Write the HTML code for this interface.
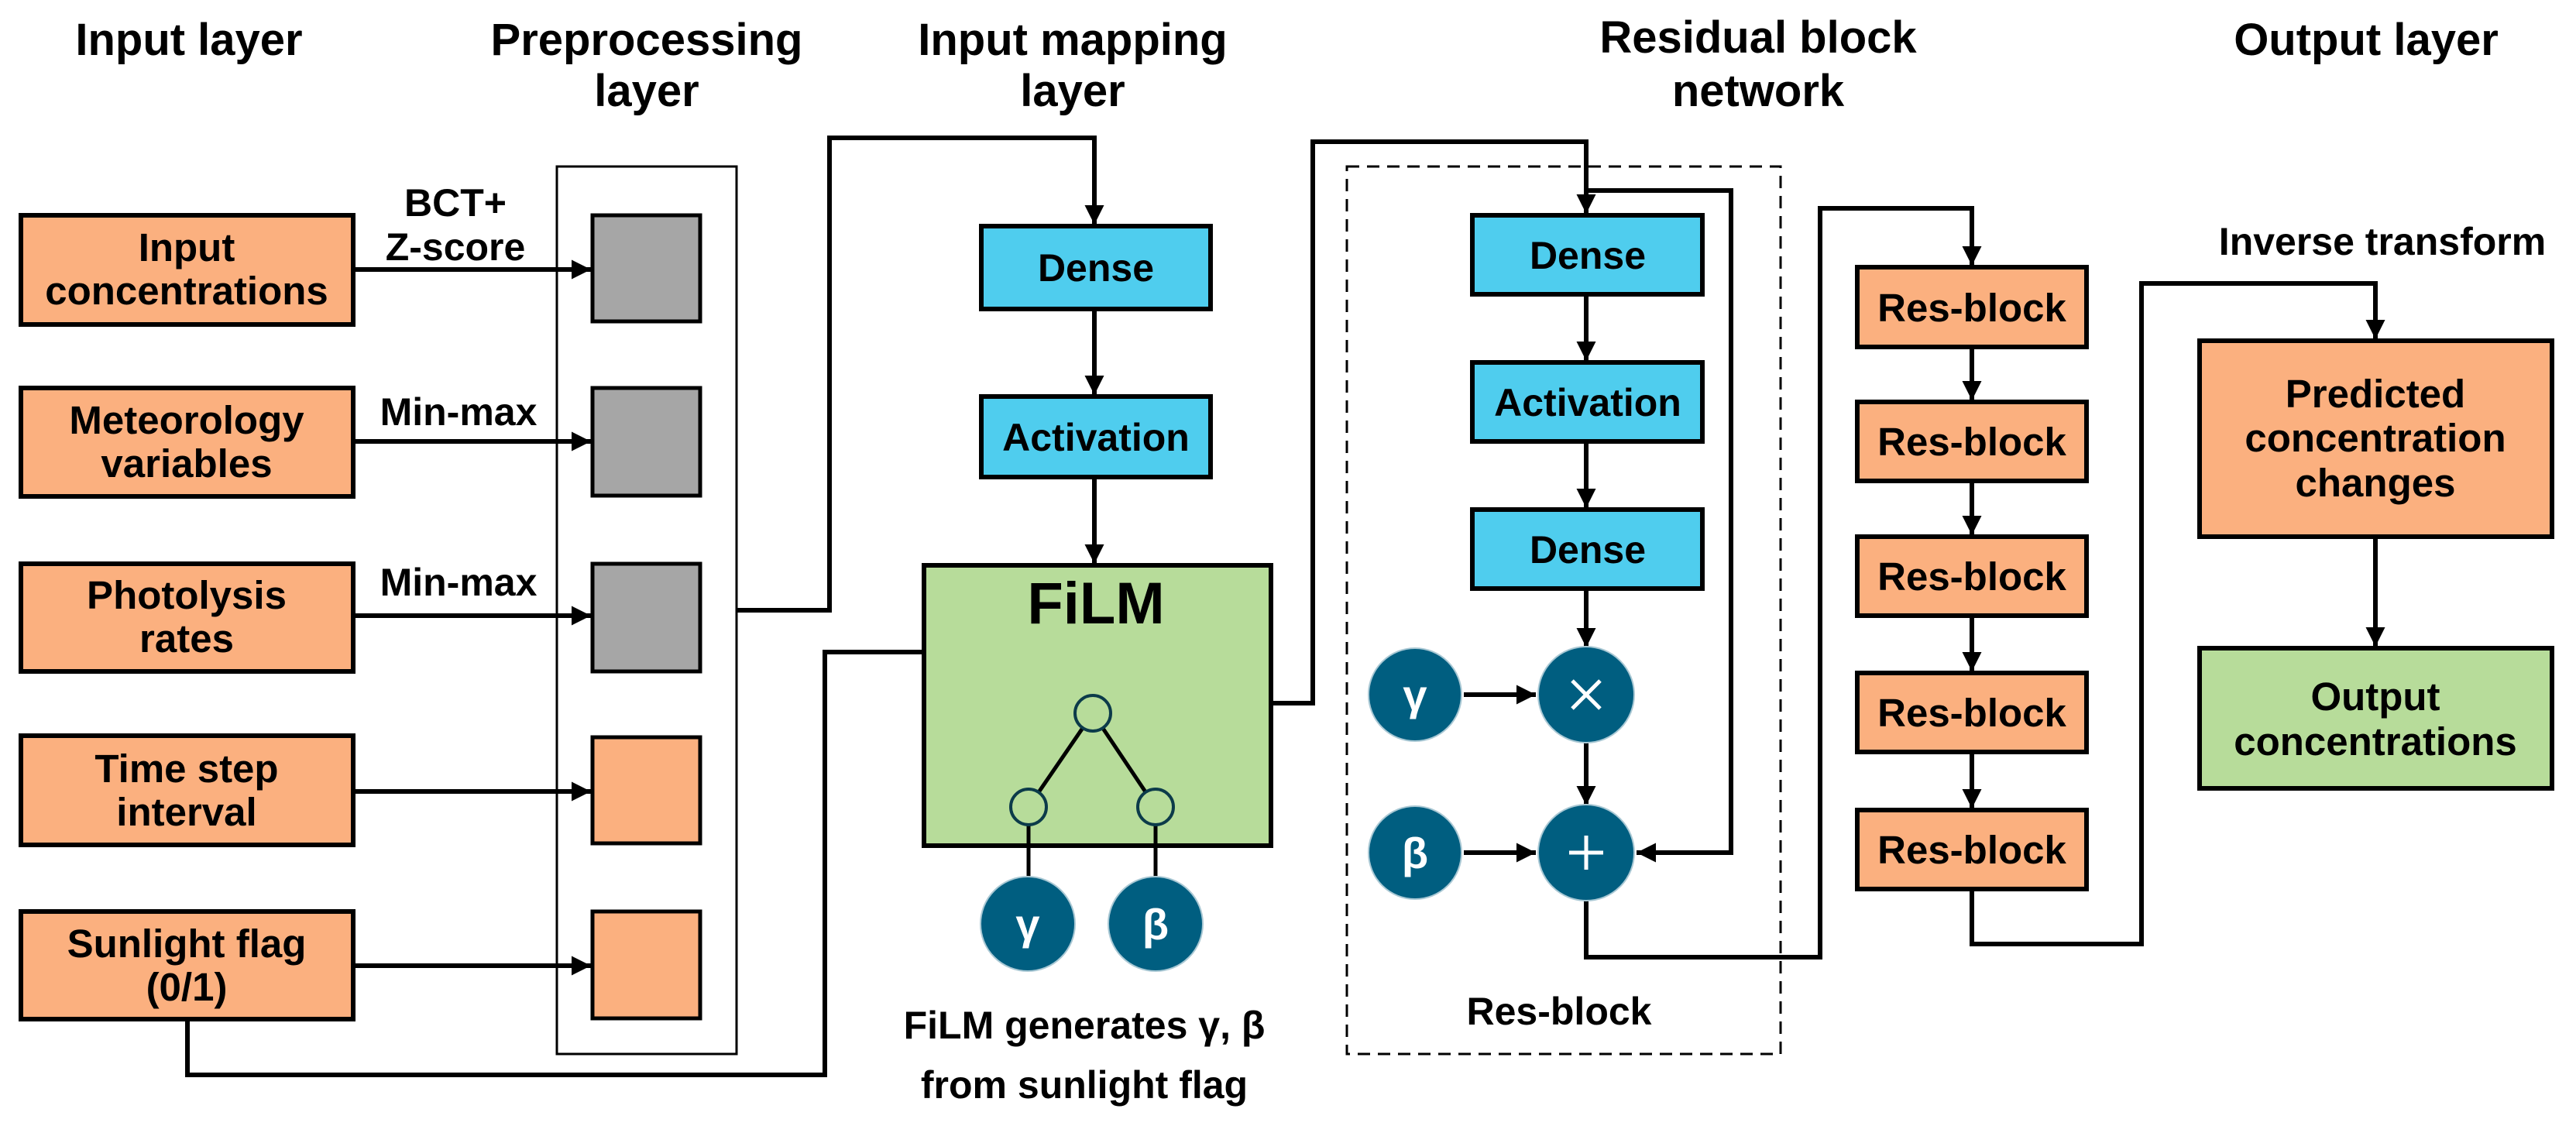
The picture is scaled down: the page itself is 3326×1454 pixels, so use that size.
<!DOCTYPE html>
<html><head><meta charset="utf-8"><style>
html,body{margin:0;padding:0;background:#fff;overflow:hidden;}
svg{display:block;}
text{font-family:"Liberation Sans",sans-serif;font-weight:bold;fill:#000;text-anchor:middle;}
</style></head><body>
<svg width="3326" height="1454" viewBox="0 0 3326 1454" xmlns="http://www.w3.org/2000/svg">
<defs>
<marker id="a" viewBox="0 0 10 10" refX="10" refY="5" markerWidth="4.2" markerHeight="4.2" markerUnits="strokeWidth" orient="auto">
<path d="M0,0 L10,5 L0,10 z" fill="#000"/></marker>
</defs>
<g font-size="58">
<text x="244" y="71">Input layer</text>
<text x="835" y="71">Preprocessing</text><text x="835" y="137">layer</text>
<text x="1385" y="71">Input mapping</text><text x="1385" y="137">layer</text>
<text x="2270" y="68">Residual block</text><text x="2270" y="137">network</text>
<text x="3055" y="71">Output layer</text>
</g>
<g stroke="#000" stroke-width="6" fill="#fbb07f">
<rect x="27" y="278" width="429" height="141"/>
<rect x="27" y="501" width="429" height="140"/>
<rect x="27" y="728" width="429" height="139"/>
<rect x="27" y="950" width="429" height="141"/>
<rect x="27" y="1177" width="429" height="139"/>
</g>
<g font-size="51">
<text x="241" y="337">Input</text><text x="241" y="393">concentrations</text>
<text x="241" y="560">Meteorology</text><text x="241" y="616">variables</text>
<text x="241" y="786">Photolysis</text><text x="241" y="842">rates</text>
<text x="241" y="1010">Time step</text><text x="241" y="1066">interval</text>
<text x="241" y="1236">Sunlight flag</text><text x="241" y="1292">(0/1)</text>
</g>
<rect x="719" y="215" width="232" height="1146" fill="none" stroke="#000" stroke-width="3"/>
<g stroke="#000" stroke-width="5">
<rect x="765" y="278" width="139" height="137" fill="#a6a6a6"/>
<rect x="765" y="501" width="139" height="139" fill="#a6a6a6"/>
<rect x="765" y="728" width="139" height="139" fill="#a6a6a6"/>
<rect x="765" y="952" width="139" height="137" fill="#fbb07f"/>
<rect x="765" y="1177" width="139" height="138" fill="#fbb07f"/>
</g>
<g font-size="50">
<text x="588" y="279">BCT+</text><text x="588" y="336">Z-score</text>
<text x="592" y="549">Min-max</text><text x="592" y="769">Min-max</text>
</g>
<g stroke="#000" stroke-width="6" fill="none" marker-end="url(#a)">
<line x1="456" y1="348" x2="763" y2="348"/>
<line x1="456" y1="570" x2="763" y2="570"/>
<line x1="456" y1="795" x2="763" y2="795"/>
<line x1="456" y1="1022" x2="763" y2="1022"/>
<line x1="456" y1="1247" x2="763" y2="1247"/>
<polyline points="951,788 1071,788 1071,178 1413,178 1413,290"/>
<line x1="1413" y1="399" x2="1413" y2="510"/>
<line x1="1413" y1="616" x2="1413" y2="728"/>
<polyline points="242,1316 242,1388 1065,1388 1065,842 1413,842 1413,899"/>
<polyline points="1641,908 1695,908 1695,183 2048,183 2048,276"/>
<line x1="2048" y1="380" x2="2048" y2="466"/>
<line x1="2048" y1="570" x2="2048" y2="656"/>
<line x1="2048" y1="760" x2="2048" y2="836"/>
<line x1="2048" y1="958" x2="2048" y2="1040"/>
<line x1="1890" y1="897" x2="1983" y2="897"/>
<line x1="1890" y1="1101" x2="1983" y2="1101"/>
<polyline points="2048,246 2235,246 2235,1101 2113,1101"/>
<polyline points="2048,1162 2048,1236 2350,1236 2350,269 2546,269 2546,343"/>
<line x1="2546" y1="448" x2="2546" y2="517"/>
<line x1="2546" y1="621" x2="2546" y2="691"/>
<line x1="2546" y1="795" x2="2546" y2="867"/>
<line x1="2546" y1="971" x2="2546" y2="1044"/>
<polyline points="2546,1148 2546,1219 2765,1219 2765,366 3067,366 3067,438"/>
<line x1="3067" y1="693" x2="3067" y2="835"/>
</g>
<g stroke="#000" stroke-width="6" fill="#4fcdee">
<rect x="1267" y="292" width="296" height="107"/>
<rect x="1267" y="512" width="296" height="104"/>
<rect x="1901" y="278" width="297" height="102"/>
<rect x="1901" y="468" width="297" height="102"/>
<rect x="1901" y="658" width="297" height="102"/>
</g>
<rect x="1193" y="730" width="448" height="362" fill="#b7dc9a" stroke="#000" stroke-width="6"/>
<g font-size="50">
<text x="1415" y="363">Dense</text><text x="1415" y="582">Activation</text>
<text x="2050" y="347">Dense</text><text x="2050" y="537">Activation</text><text x="2050" y="727">Dense</text>
</g>
<text x="1415" y="805" font-size="76">FiLM</text>
<g stroke="#000" stroke-width="5" fill="none">
<line x1="1411" y1="921" x2="1328" y2="1042"/>
<line x1="1411" y1="921" x2="1492" y2="1042"/>
<line x1="1328" y1="1042" x2="1328" y2="1140"/>
<line x1="1492" y1="1042" x2="1492" y2="1140"/>
</g>
<g stroke="#0c3b4a" stroke-width="4" fill="#b7dc9a">
<circle cx="1411" cy="921" r="23"/><circle cx="1328" cy="1042" r="23"/><circle cx="1492" cy="1042" r="23"/>
</g>
<g fill="#005e80" stroke="#a9c8d4" stroke-width="2">
<circle cx="1327" cy="1193" r="61"/><circle cx="1492" cy="1193" r="61"/>
<circle cx="1827" cy="897" r="60"/><circle cx="1827" cy="1101" r="60"/>
<circle cx="2048" cy="897" r="62"/><circle cx="2048" cy="1101" r="62"/>
</g>
<g font-size="56">
<text x="1327" y="1213" style="fill:#fff">γ</text><text x="1492" y="1213" style="fill:#fff">β</text>
<text x="1827" y="917" style="fill:#fff">γ</text><text x="1827" y="1121" style="fill:#fff">β</text>
</g>
<g stroke="#fff" stroke-width="5">
<line x1="2030" y1="879" x2="2066" y2="915"/><line x1="2066" y1="879" x2="2030" y2="915"/>
<line x1="2026" y1="1101" x2="2070" y2="1101"/><line x1="2048" y1="1079" x2="2048" y2="1123"/>
</g>
<g font-size="50">
<text x="1400" y="1341">FiLM generates γ, β</text>
<text x="1400" y="1418">from sunlight flag</text>
</g>
<rect x="1739" y="215" width="560" height="1146" fill="none" stroke="#000" stroke-width="3" stroke-dasharray="16,10"/>
<text x="2013" y="1323" font-size="50">Res-block</text>
<g stroke="#000" stroke-width="6" fill="#fbb07f">
<rect x="2398" y="345" width="296" height="103"/>
<rect x="2398" y="519" width="296" height="102"/>
<rect x="2398" y="693" width="296" height="102"/>
<rect x="2398" y="869" width="296" height="102"/>
<rect x="2398" y="1046" width="296" height="102"/>
<rect x="2840" y="440" width="455" height="253"/>
<rect x="2840" y="837" width="455" height="181" fill="#b7dc9a"/>
</g>
<g font-size="51">
<text x="2546" y="415">Res-block</text><text x="2546" y="588">Res-block</text><text x="2546" y="762">Res-block</text>
<text x="2546" y="938">Res-block</text><text x="2546" y="1115">Res-block</text>
</g>
<g font-size="51">
<text x="3067" y="526">Predicted</text><text x="3067" y="583">concentration</text><text x="3067" y="641">changes</text>
<text x="3067" y="917">Output</text><text x="3067" y="975">concentrations</text>
</g>
<text x="3076" y="329" font-size="50">Inverse transform</text>
</svg>
</body></html>
